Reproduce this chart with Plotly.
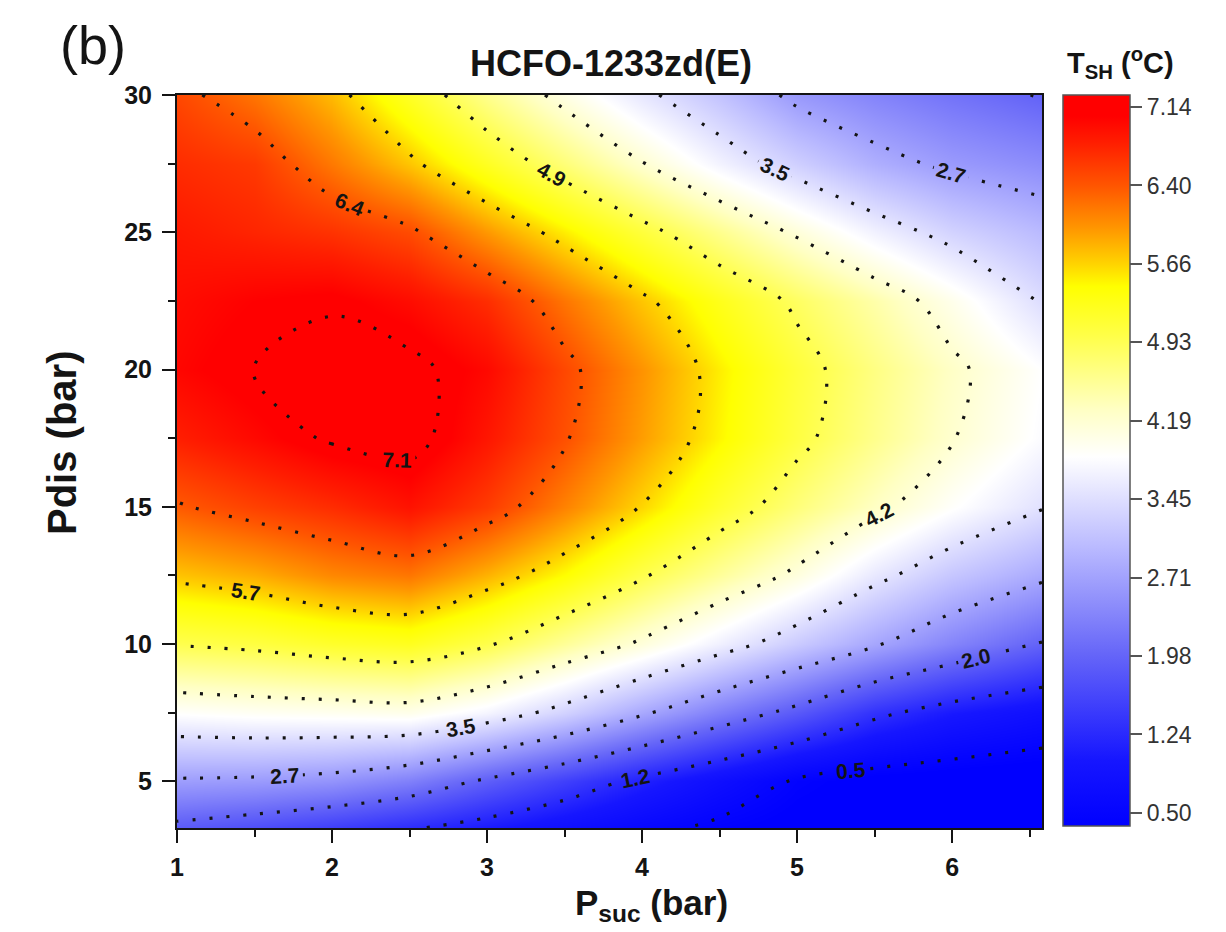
import plotly.graph_objects as go

# ---------------- data ----------------
p_suc = [1.0, 1.5, 2.0, 2.5, 3.0, 3.5, 4.0, 4.5, 5.0, 5.5, 6.0, 6.58]
p_dis = [3.3, 5.0, 7.5, 10.0, 12.5, 15.0, 17.5, 20.0, 22.5, 25.0, 27.5, 30.0]

t_sh_p3_3 = [1.86, 1.70, 1.50, 1.28, 1.05, 0.82, 0.60, 0.42, 0.30, 0.25, 0.20, 0.20]
t_sh_p5_0 = [2.66, 2.63, 2.54, 2.31, 1.90, 1.52, 1.13, 0.78, 0.45, 0.30, 0.25, 0.20]
t_sh_p7_5 = [3.87, 3.93, 3.96, 4.00, 3.72, 3.29, 2.78, 2.28, 1.83, 1.34, 1.03, 0.82]
t_sh_p10 = [4.95, 5.03, 5.17, 5.25, 4.97, 4.54, 4.12, 3.66, 3.20, 2.76, 2.36, 1.95]
t_sh_p12_5 = [5.75, 5.88, 6.09, 6.20, 5.85, 5.45, 4.97, 4.53, 4.10, 3.57, 3.15, 2.80]
t_sh_p15 = [6.37, 6.55, 6.70, 6.90, 6.59, 6.12, 5.65, 5.15, 4.71, 4.29, 3.88, 3.48]
t_sh_p17_5 = [6.80, 6.98, 7.18, 7.25, 6.87, 6.44, 5.96, 5.49, 5.03, 4.61, 4.21, 3.80]
t_sh_p20 = [7.00, 7.15, 7.28, 7.22, 6.98, 6.50, 6.02, 5.53, 5.08, 4.66, 4.27, 3.85]
t_sh_p22_5 = [6.95, 7.05, 7.10, 6.95, 6.69, 6.20, 5.74, 5.28, 4.85, 4.44, 4.00, 3.43]
t_sh_p25 = [6.85, 6.75, 6.65, 6.47, 5.99, 5.53, 5.07, 4.60, 4.13, 3.68, 3.30, 3.00]
t_sh_p27_5 = [6.70, 6.60, 6.18, 5.74, 5.23, 4.72, 4.21, 3.70, 3.26, 2.87, 2.62, 2.45]
t_sh_p30 = [6.50, 6.20, 5.80, 5.20, 4.60, 4.05, 3.55, 3.10, 2.60, 2.35, 2.15, 1.95]

t_sh = [t_sh_p3_3, t_sh_p5_0, t_sh_p7_5, t_sh_p10, t_sh_p12_5, t_sh_p15,
        t_sh_p17_5, t_sh_p20, t_sh_p22_5, t_sh_p25, t_sh_p27_5, t_sh_p30]

cbar_ticks = [0.50, 1.24, 1.98, 2.71, 3.45, 4.19, 4.93, 5.66, 6.40, 7.14]
cbar_ticktext = ["0.50", "1.24", "1.98", "2.71", "3.45", "4.19", "4.93", "5.66", "6.40", "7.14"]

# ---------------- styling ----------------
zmin, zmax = 0.38, 7.25
color_stops = [
    (0.38, "rgb(0,0,255)"),
    (1.00, "rgb(22,22,255)"),
    (2.00, "rgb(102,102,248)"),
    (3.00, "rgb(186,186,255)"),
    (3.85, "rgb(255,255,255)"),
    (4.30, "rgb(255,255,195)"),
    (5.00, "rgb(255,255,70)"),
    (5.45, "rgb(255,255,0)"),
    (5.66, "rgb(255,212,0)"),
    (6.00, "rgb(255,150,0)"),
    (6.40, "rgb(255,85,0)"),
    (6.80, "rgb(255,30,0)"),
    (7.05, "rgb(255,0,0)"),
    (7.25, "rgb(255,0,0)"),
]
colorscale = [[(v - zmin) / (zmax - zmin), c] for v, c in color_stops]

c_start = 0.50
c_end = 7.15
c_size = (7.14 - 0.50) / 9

FONT = "Arial, Liberation Sans, Helvetica, sans-serif"
DARK = "#141414"

fig = go.Figure()

# smooth colour field + colour bar
fig.add_trace(go.Contour(
    x=p_suc, y=p_dis, z=t_sh,
    colorscale=colorscale, zmin=zmin, zmax=zmax, zauto=False,
    contours=dict(coloring="heatmap", showlines=False,
                  start=c_start, end=c_end, size=c_size),
    line=dict(width=0),
    hoverinfo="skip",
    colorbar=dict(
        x=(1063 - 177) / 865, xanchor="left", xpad=0,
        y=(828 - 460.5) / 733, yanchor="middle", ypad=0,
        thickness=67, lenmode="pixels", len=731,
        outlinewidth=1.5, outlinecolor="#555555",
        tickmode="array", tickvals=cbar_ticks, ticktext=cbar_ticktext,
        ticks="outside", ticklen=12, tickwidth=1.5, tickcolor="#555555",
        tickfont=dict(family=FONT, size=23, color="#333333"),
    ),
))

# dotted contour lines with labels
fig.add_trace(go.Contour(
    x=p_suc, y=p_dis, z=t_sh,
    showscale=False,
    contours=dict(coloring="none", showlines=True, showlabels=True,
                  start=c_start, end=c_end, size=c_size,
                  labelformat=".1f",
                  labelfont=dict(family=FONT, size=21, color=DARK, weight="bold")),
    line=dict(color=DARK, width=3.2, dash="3px,14px"),
    hoverinfo="skip",
))

fig.update_layout(
    width=1226, height=932,
    margin=dict(l=177, r=184, t=95, b=104),
    paper_bgcolor="white", plot_bgcolor="white",
    showlegend=False,
    font=dict(family=FONT, color=DARK),
)

fig.update_xaxes(
    range=[1, 6.58], tickmode="array", tickvals=[1, 2, 3, 4, 5, 6],
    ticks="outside", ticklen=13, tickwidth=2, tickcolor=DARK,
    showline=True, linecolor=DARK, linewidth=2, mirror=True,
    showgrid=False, zeroline=False,
    tickfont=dict(family=FONT, size=25, color=DARK, weight="bold"),
    ticklabelstandoff=3,
    minor=dict(tick0=1, dtick=0.5, ticks="outside", ticklen=7, tickwidth=2, tickcolor=DARK),
)
fig.update_yaxes(
    range=[3.3, 30], tickmode="array", tickvals=[5, 10, 15, 20, 25, 30],
    ticks="outside", ticklen=13, tickwidth=2, tickcolor=DARK,
    showline=True, linecolor=DARK, linewidth=2, mirror=True,
    showgrid=False, zeroline=False,
    tickfont=dict(family=FONT, size=25, color=DARK, weight="bold"),
    ticklabelstandoff=5,
    minor=dict(tick0=0, dtick=2.5, ticks="outside", ticklen=7, tickwidth=2, tickcolor=DARK),
)

annotations = [
    dict(text="(b)", x=(58 - 177) / 865, y=1 + (95 - 45) / 733, xref="paper", yref="paper",
         xanchor="left", yanchor="middle", showarrow=False,
         font=dict(family=FONT, size=54, color=DARK)),
    dict(text="<b>HCFO-1233zd(E)</b>", x=(611 - 177) / 865, y=1 + (95 - 64) / 733,
         xref="paper", yref="paper", xanchor="center", yanchor="middle", showarrow=False,
         font=dict(family=FONT, size=36, color=DARK)),
    dict(text="<b>T<sub>SH</sub> (<sup>o</sup>C)</b>", x=(1120 - 177) / 865, y=1 + (95 - 63) / 733,
         xref="paper", yref="paper", xanchor="center", yanchor="middle", showarrow=False,
         font=dict(family=FONT, size=29, color=DARK)),
    dict(text="<b>P<sub>suc</sub> (bar)</b>", x=(651 - 177) / 865, y=(828 - 905) / 733,
         xref="paper", yref="paper", xanchor="center", yanchor="middle", showarrow=False,
         font=dict(family=FONT, size=35, color=DARK)),
    dict(text="<b>Pdis (bar)</b>", x=(62 - 177) / 865, y=(828 - 443) / 733,
         xref="paper", yref="paper", xanchor="center", yanchor="middle", showarrow=False,
         textangle=-90, font=dict(family=FONT, size=40, color=DARK)),
]
fig.update_layout(annotations=annotations)

fig.write_html("out.html")
